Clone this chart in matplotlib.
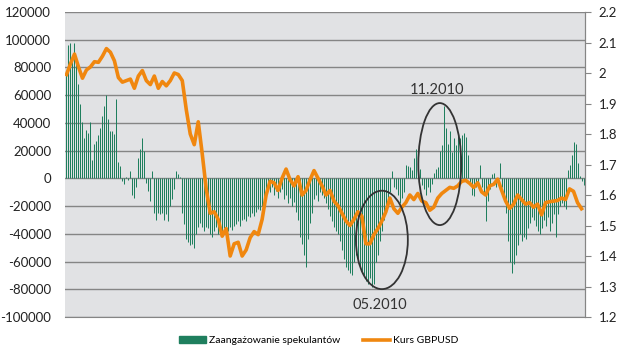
import numpy as np
import matplotlib
matplotlib.use("Agg")
import matplotlib.pyplot as plt
from matplotlib.patches import Ellipse, Patch
from matplotlib.lines import Line2D
from matplotlib.ticker import FuncFormatter

# ---- data (weekly observations) ----
speculators = [
    75000, 96000, 98000, 85000, 98000, 88000, 68000, 54000, 41000, 29000,
    35000, 33000, 41000, 13000, 25000, 27000, 31000, 36000, 45000, 52000,
    60000, 43000, 34000, 34000, 32000, 57000, 12000, 9000, -2000, -4000,
    1000, -1000, 5000, -12000, -14000, -6000, 15000, 21000, 29000, 20000,
    -3000, -9000, -16000, 5000, -25000, -30000, -25000, -26000, -25000, -30000,
    -26000, -31000, -20000, -15000, -8000, 5000, 3000, 1000, -25000, -33000,
    -44000, -46000, -48000, -47000, -50000, -40000, -35000, -32000, -35000, -38000,
    -35000, -36000, -40000, -42000, -38000, -35000, -40000, -38000, -40000, -36000,
    -42000, -38000, -35000, -37000, -34000, -33000, -31000, -34000, -30000, -29000,
    -31000, -27000, -28000, -25000, -27000, -24000, -22000, -23000, -20000, -18000,
    -14000, -8000, -10000, -6000, -12000, -9000, -14000, -10000, -8000, -15000,
    -12000, -18000, -14000, -20000, -17000, -24000, -30000, -42000, -47000, -55000,
    -64000, -44000, -32000, -25000, -15000, -12000, -16000, -10000, -12000, -14000,
    -18000, -22000, -27000, -31000, -35000, -38000, -40000, -45000, -52000, -58000,
    -64000, -66000, -68000, -70000, -60000, -55000, -58000, -65000, -68000, -70000,
    -74000, -76000, -72000, -78000, -76000, -60000, -55000, -45000, -38000, -30000,
    -22000, -14000, -10000, 5000, -6000, -8000, -12000, -18000, -14000, -10000,
    10000, 9000, 8000, 6000, 15000, 21000, 20000, 7000, -5000, -8000,
    -12000, -6000, -10000, -4000, 4000, 7000, 8000, 20000, 24000, 52000,
    36000, 25000, 34000, 19000, 29000, 24000, 33000, 29000, 31000, 33000,
    30000, 17000, -3000, -12000, -13000, -6000, -4000, 10000, -6000, -12000,
    -31000, -16000, -8000, 3000, 4000, -6000, -3000, 11000, -6000, -12000,
    -25000, -45000, -60000, -68000, -62000, -55000, -48000, -40000, -45000, -42000,
    -44000, -36000, -32000, -28000, -30000, -34000, -38000, -40000, -36000, -30000,
    -34000, -28000, -38000, -32000, -26000, -42000, -26000, -20000, -18000, -20000,
    -22000, 6000, 10000, 17000, 26000, 25000, 11000, 2000, -2000, -5000,
]

# GBPUSD, read every second week
gbpusd = [
    1.995, 2.030, 2.062, 2.020, 1.983, 2.010, 2.020, 2.037, 2.035, 2.055,
    2.080, 2.068, 2.040, 1.985, 1.970, 1.975, 1.980, 1.950, 1.990, 2.008,
    1.975, 1.962, 1.990, 1.950, 1.972, 1.958, 1.975, 2.000, 1.995, 1.975,
    1.880, 1.800, 1.765, 1.840, 1.735, 1.620, 1.540, 1.545, 1.520, 1.465,
    1.490, 1.400, 1.440, 1.445, 1.400, 1.420, 1.460, 1.480, 1.470, 1.520,
    1.600, 1.645, 1.640, 1.615, 1.655, 1.685, 1.650, 1.630, 1.660, 1.600,
    1.615, 1.650, 1.680, 1.655, 1.630, 1.600, 1.615, 1.580, 1.565, 1.540,
    1.515, 1.500, 1.520, 1.545, 1.530, 1.440, 1.440, 1.470, 1.490, 1.515,
    1.545, 1.590, 1.555, 1.540, 1.560, 1.575, 1.600, 1.585, 1.605, 1.580,
    1.575, 1.550, 1.560, 1.590, 1.605, 1.615, 1.625, 1.622, 1.630, 1.645,
    1.648, 1.638, 1.625, 1.640, 1.610, 1.600, 1.630, 1.635, 1.652, 1.615,
    1.580, 1.556, 1.570, 1.600, 1.585, 1.570, 1.575, 1.560, 1.570, 1.535,
    1.575, 1.578, 1.580, 1.582, 1.590, 1.585, 1.620, 1.612, 1.575, 1.555,
]

left_ticks = [-100000, -80000, -60000, -40000, -20000, 0, 20000, 40000,
              60000, 80000, 100000, 120000]
right_ticks = [1.2, 1.3, 1.4, 1.5, 1.6, 1.7, 1.8, 1.9, 2.0, 2.1, 2.2]
series_names = ["Zaangażowanie spekulantów", "Kurs GBPUSD"]
notes = ["11.2010", "05.2010"]

weeks = np.arange(len(speculators))
line_weeks = weeks[::2][:len(gbpusd)]

BAR_C = "#1F7F5E"
LINE_C = "#F0870F"
GRID_C = "#858585"
BG = "#E1E2E4"
TXT = "#222222"

plt.rcParams["font.family"] = ["Lato", "DejaVu Sans"]

W, H = 637, 355
fig = plt.figure(figsize=(W / 100, H / 100), dpi=100)
ax = fig.add_axes([65 / W, 38 / H, 520 / W, 305 / H])
ax.set_facecolor(BG)
# thin columns, one pixel wide each
ax.vlines(weeks, 0, speculators, colors=BAR_C, lw=0.72, zorder=2)
ax.set_xlim(-0.75, len(speculators) - 0.25)
ax.set_ylim(left_ticks[0], left_ticks[-1])
ax.set_yticks(left_ticks)
ax.yaxis.set_major_formatter(FuncFormatter(lambda v, p: f"{int(v)}"))
ax.grid(axis="y", color=GRID_C, lw=1.0, zorder=1)
ax.set_axisbelow(True)
ax.set_xticks([])
ax.tick_params(axis="y", length=0, labelsize=9.5, labelcolor=TXT, pad=10)
for s in ["left", "top"]:
    ax.spines[s].set_visible(False)
ax.spines["bottom"].set_color(GRID_C)
ax.spines["right"].set_color(GRID_C)

ax2 = ax.twinx()
ax2.plot(line_weeks, gbpusd, color=LINE_C, lw=2.6, zorder=3,
         solid_joinstyle="round")
ax2.set_ylim(right_ticks[0], right_ticks[-1])
ax2.set_yticks(right_ticks)
ax2.yaxis.set_major_formatter(FuncFormatter(lambda v, p: f"{v:g}"))
ax2.tick_params(axis="y", direction="out", length=4, color=GRID_C,
                labelsize=9.5, labelcolor=TXT, pad=6)
for s in ["left", "top", "bottom"]:
    ax2.spines[s].set_visible(False)
ax2.spines["right"].set_color(GRID_C)

# annotation ellipses (in left-axis data coordinates)
e1 = Ellipse((187, 10300), 21.5, 88000, transform=ax.transData,
             fill=False, ec="#333333", lw=1.3, zorder=5)
e2 = Ellipse((158, -44400), 26, 71000, transform=ax.transData,
             fill=False, ec="#333333", lw=1.3, zorder=5)
ax2.add_patch(e1)
ax2.add_patch(e2)
ax2.text(185.5, 64000, notes[0], transform=ax.transData, ha="center",
         va="center", fontsize=10.5, color="#333333", zorder=6)
ax2.text(157, -91000, notes[1], transform=ax.transData, ha="center",
         va="center", fontsize=10.5, color="#333333", zorder=6)

handles = [Patch(color=BAR_C), Line2D([0], [0], color=LINE_C, lw=2.6)]
fig.legend(handles, series_names, loc="center", bbox_to_anchor=(0.5, 0.04),
           ncol=2, frameon=False, fontsize=7.5, handlelength=2.6,
           handleheight=0.6, columnspacing=2.2, handletextpad=0.3)

fig.savefig("out.png", dpi=100, facecolor="white")
